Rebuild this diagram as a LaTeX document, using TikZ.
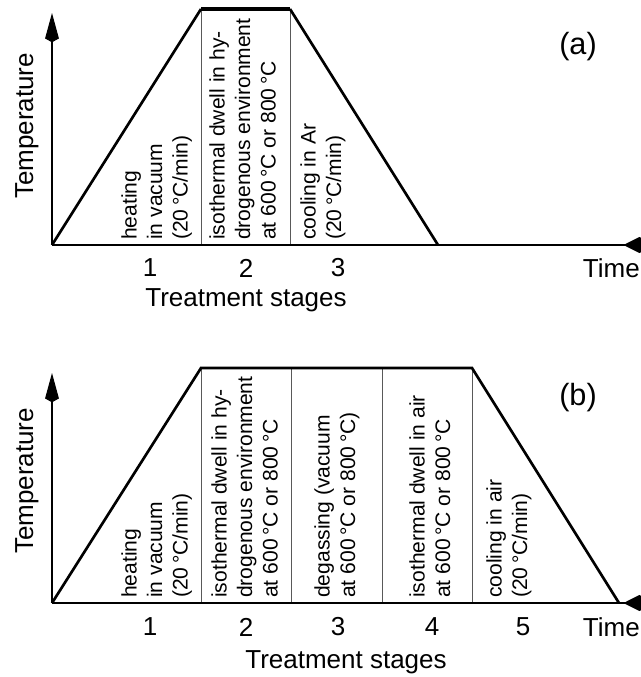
\documentclass[tikz,border=0pt]{standalone}
\usepackage{fontspec}
\setmainfont{Liberation Sans}
\usetikzlibrary{arrows.meta}

\begin{document}
\begin{tikzpicture}[x=0.75pt, y=-0.75pt,
    stagetext/.style={rotate=90, anchor=north west, inner sep=0pt, align=left, font=\fontsize{15.8}{19.2}\selectfont},
    axislabel/.style={inner sep=0pt, font=\fontsize{19.5}{22}\selectfont},
    stagenum/.style={inner sep=0pt, font=\fontsize{19.5}{22}\selectfont},
    panellabel/.style={inner sep=0pt, font=\fontsize{23}{26}\selectfont},
    profile/.style={line width=2pt, line join=miter},
    divider/.style={line width=0.7pt, black!65},
    yaxis/.style={line width=0.8pt, -{Stealth[length=19pt, width=10pt, inset=-3pt]}},
    xaxis/.style={line width=1.5pt, -{Stealth[length=14pt, width=11pt, inset=-12pt]}}]
    \useasboundingbox (0,0) rectangle (640,677);

    % Panel (a)
    \coordinate (oa) at (52,245);
    \coordinate (ya) at (52,13);
    \coordinate (xa) at (658,245);
    \coordinate (a1) at (201,9);
    \coordinate (a2) at (290,9);
    \coordinate (a3) at (438,245);
    \coordinate (a1b) at (201,245);
    \coordinate (a2b) at (290,245);

    \draw[divider] (a1) -- (a1b);
    \draw[divider] (a2) -- (a2b);
    \draw[yaxis] (oa) -- (ya);
    \draw[xaxis] (oa) -- (xa);
    \draw[profile] (oa) -- (a1);
    \draw[profile, line width=2.7pt] (a1) -- (a2);
    \draw[profile] (a2) -- (a3);

    \node[stagetext] (ta1) at (121,240) {heating\\in vacuum\\(20\,°C/min)};
    \node[stagetext] (ta2) at (209,240) {isothermal dwell in hy-\\drogenous environment\\at 600\,°C or 800\,°C};
    \node[stagetext] (ta3) at (300,240) {cooling in Ar\\(20\,°C/min)};

    \node[stagenum] (na1) at (150,268) {1};
    \node[stagenum] (na2) at (246,268) {2};
    \node[stagenum] (na3) at (338,268) {3};

    \node[axislabel] (tempa) at (27,126) [rotate=90] {Temperature};
    \node[axislabel, anchor=east] (timea) at (640,268) {Time};
    \node[axislabel] (stagesa) at (246,300) {Treatment stages};
    \node[panellabel] (laba) at (578,47) {(a)};

    % Panel (b)
    \coordinate (ob) at (52,603);
    \coordinate (yb) at (52,373);
    \coordinate (xb) at (658,603);
    \coordinate (b1) at (201,368);
    \coordinate (b4) at (472,368);
    \coordinate (b5) at (619,603);

    \foreach \dx [count=\i] in {201,291,382,472}
        \draw[divider] (\dx,368) coordinate (d\i t) -- (\dx,603) coordinate (d\i b);
    \draw[yaxis] (ob) -- (yb);
    \draw[xaxis] (ob) -- (xb);
    \draw[profile] (ob) -- (b1) -- (b4) -- (b5);

    \node[stagetext] (tb1) at (121,598) {heating\\in vacuum\\(20\,°C/min)};
    \node[stagetext] (tb2) at (211,598) {isothermal dwell in hy-\\drogenous environment\\at 600\,°C or 800\,°C};
    \node[stagetext] (tb3) at (314,598) {degassing (vacuum\\at 600\,°C or 800\,°C)};
    \node[stagetext] (tb4) at (409,598) {isothermal dwell in air\\at 600\,°C or 800\,°C};
    \node[stagetext] (tb5) at (486,598) {cooling in air\\(20\,°C/min)};

    \node[stagenum] (nb1) at (150,627) {1};
    \node[stagenum] (nb2) at (246,627) {2};
    \node[stagenum] (nb3) at (338,627) {3};
    \node[stagenum] (nb4) at (432,627) {4};
    \node[stagenum] (nb5) at (523,627) {5};

    \node[axislabel] (tempb) at (27,481) [rotate=90] {Temperature};
    \node[axislabel, anchor=east] (timeb) at (640,627) {Time};
    \node[axislabel] (stagesb) at (346,662) {Treatment stages};
    \node[panellabel] (labb) at (578,398) {(b)};
\end{tikzpicture}
\end{document}
